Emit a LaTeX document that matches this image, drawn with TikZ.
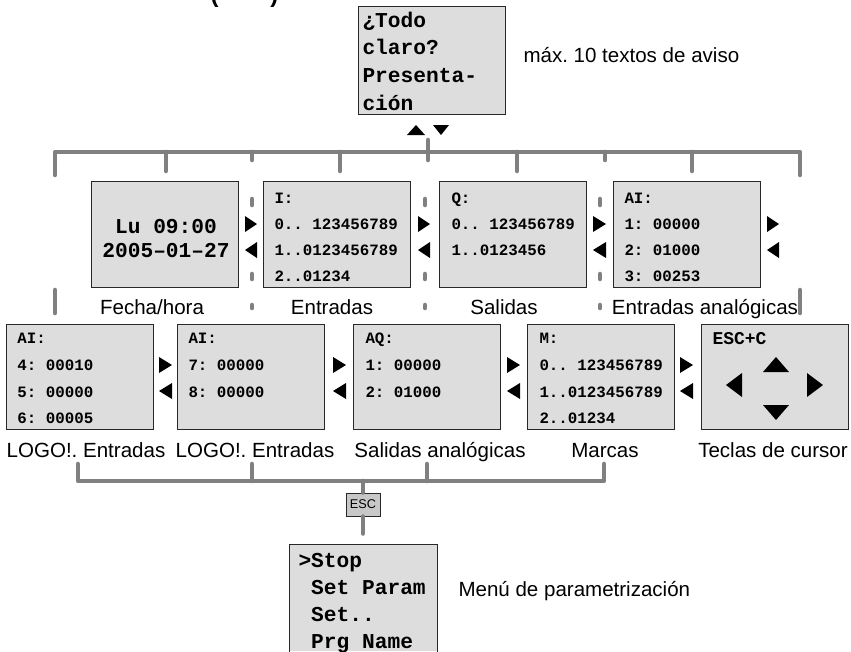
\documentclass[tikz,border=0pt]{standalone}
\usepackage{fontspec}
\setmainfont{Liberation Sans}
\setmonofont{Liberation Mono}
\frenchspacing
\definecolor{lcdgray}{RGB}{221,221,221}
\definecolor{lcdline}{RGB}{40,40,40}
\definecolor{busgray}{RGB}{128,128,128}
\definecolor{escgray}{RGB}{200,200,200}
\tikzset{every picture/.style={line width=0.75pt}}
\tikzset{
lcd/.style={draw=lcdline, fill=lcdgray, line width=0.75pt, inner sep=0pt, minimum width=110.25pt, minimum height=79pt},
bus/.style={draw=busgray, line width=3.4pt, line cap=round, line join=round},
lcdsmall/.style={font=\ttfamily\bfseries\fontsize{11.85}{14}\selectfont, inner sep=0pt, anchor=base west},
lcdbig/.style={font=\ttfamily\bfseries\fontsize{15.9}{19}\selectfont, inner sep=0pt, anchor=base west},
caption/.style={font=\fontsize{15.4}{18}\selectfont, inner sep=0pt, anchor=base},
esckey/.style={draw=lcdline, fill=escgray, inner sep=0pt, minimum width=25.5pt, minimum height=17.25pt, font=\fontsize{9.5}{10}\selectfont}}

\begin{document}
\begin{tikzpicture}[x=0.75pt,y=0.75pt,yscale=-1,xscale=1]
\useasboundingbox (0,0) rectangle (851,651);

% Heading, cut off by the page
\node[font=\bfseries\fontsize{18}{20}\selectfont, inner sep=0pt, anchor=base west] (titulo) at (210,2) {(\hspace{39pt})};

%Gray bus, top
\draw[bus] (55,175) -- (55,152) -- (800,152) -- (800,175) ;
\draw[bus] (428,140) -- (428,160) ;
\draw[bus] (166,152) -- (166,171) ;
\draw[bus] (340,152) -- (340,171) ;
\draw[bus] (517,152) -- (517,171) ;
\draw[bus] (692,152) -- (692,171) ;
\draw[bus] (252,152) -- (252,160) ;
\draw[bus] (605,152) -- (605,160) ;
%Gray bus, bottom
\draw[bus] (78,464) -- (78,481) -- (604,481) -- (604,464) ;
\draw[bus] (252,464) -- (252,481) ;
\draw[bus] (427,464) -- (427,481) ;

%Shape: message display
\node[lcd, minimum height=81pt] (aviso) at (431.5,60) {};
%Shape: row 1 displays
\node[lcd] (fecha) at (165,234.5) {};
\node[lcd] (entr) at (336.5,234.5) {};
\node[lcd] (sal) at (513,234.5) {};
\node[lcd] (anain) at (686.5,234.5) {};
%Shape: row 2 displays
\node[lcd] (logoa) at (79.5,377) {};
\node[lcd] (logob) at (250.5,377) {};
\node[lcd] (anaout) at (426.5,377) {};
\node[lcd] (marc) at (600.5,377) {};
\node[lcd] (cursor) at (775,377) {};
%Shape: ESC key and parameter menu
\node[esckey] (esc) at (363,504.5) {ESC};
\draw[bus] (esc.north) -- (esc.north |- 0,481) ;
\draw[bus] (esc.south) -- ++(0,17) ;
\node[lcd, draw=none, minimum height=79.5pt] (param) at (363.5,598) {};
\draw[lcdline] (param.south west) -- (param.north west) -- (param.north east) -- (param.south east) ;

% Text Node
\node[lcdbig] (aviso1) at (362,27) {¿Todo};
\node[lcdbig] (aviso2) at (362,54) {claro?};
\node[lcdbig] (aviso3) at (362,82) {Presenta-};
\node[lcdbig] (aviso4) at (362,110) {ción};
\node[caption, anchor=base west] (avisolbl) at (523,62) {máx. 10 textos de aviso};

% Text Node
\node[lcdbig, anchor=base] (fecha1) at (166,233) {Lu 09:00};
\node[lcdbig, anchor=base] (fecha2) at (166,257) {2005–01–27};
\node[lcdsmall] (entr1) at (274,203) {I:};
\node[lcdsmall] (entr2) at (274,229) {0.. 123456789};
\node[lcdsmall] (entr3) at (274,255) {1..0123456789};
\node[lcdsmall] (entr4) at (274,281) {2..01234};
\node[lcdsmall] (sal1) at (451,203) {Q:};
\node[lcdsmall] (sal2) at (451,229) {0.. 123456789};
\node[lcdsmall] (sal3) at (451,255) {1..0123456};
\node[lcdsmall] (anain1) at (624,203) {AI:};
\node[lcdsmall] (anain2) at (624,229) {1: 00000};
\node[lcdsmall] (anain3) at (624,255) {2: 01000};
\node[lcdsmall] (anain4) at (624,281) {3: 00253};

% Text Node
\node[lcdsmall] (logoa1) at (17,343) {AI:};
\node[lcdsmall] (logoa2) at (17,370) {4: 00010};
\node[lcdsmall] (logoa3) at (17,397) {5: 00000};
\node[lcdsmall] (logoa4) at (17,423) {6: 00005};
\node[lcdsmall] (logob1) at (188,343) {AI:};
\node[lcdsmall] (logob2) at (188,370) {7: 00000};
\node[lcdsmall] (logob3) at (188,397) {8: 00000};
\node[lcdsmall] (anaout1) at (365,343) {AQ:};
\node[lcdsmall] (anaout2) at (365,370) {1: 00000};
\node[lcdsmall] (anaout3) at (365,397) {2: 01000};
\node[lcdsmall] (marc1) at (539,343) {M:};
\node[lcdsmall] (marc2) at (539,370) {0.. 123456789};
\node[lcdsmall] (marc3) at (539,397) {1..0123456789};
\node[lcdsmall] (marc4) at (539,423) {2..01234};
\node[lcdsmall, font=\ttfamily\bfseries\fontsize{13.5}{15}\selectfont] (cursor1) at (712,344) {ESC+C};

% Text Node
\node[lcdbig] (param1) at (298,567) {>Stop};
\node[lcdbig] (param2) at (298,594) {\hphantom{>}Set Param};
\node[lcdbig] (param3) at (298,621) {\hphantom{>}Set..};
\node[lcdbig] (param4) at (298,648) {\hphantom{>}Prg Name};
\node[caption, anchor=base west] (paramlbl) at (458,596) {Menú de parametrización};

% Captions
\node[caption] (fechalbl) at (152,314) {Fecha/hora};
\node[caption] (entrlbl) at (332,314) {Entradas};
\node[caption] (sallbl) at (504,314) {Salidas};
\node[caption] (anainlbl) at (705,314) {Entradas analógicas};
\node[caption] (logoalbl) at (86,457) {LOGO!. Entradas};
\node[caption] (logoblbl) at (255,457) {LOGO!. Entradas};
\node[caption] (anaoutlbl) at (440,457) {Salidas analógicas};
\node[caption] (marclbl) at (605,457) {Marcas};
\node[caption] (cursorlbl) at (773,457) {Teclas de cursor};

%Gray bus, broken pieces between the displays
\draw[bus] (252,199) -- (252,205) (252,274) -- (252,279) (252,305) -- (252,308) ;
\draw[bus] (425,199) -- (425,205) (425,274) -- (425,279) (425,305) -- (425,308) ;
\draw[bus] (600,199) -- (600,205) (600,274) -- (600,279) (600,305) -- (600,308) ;
\draw[bus] (55,290) -- (55,313) ;
\draw[bus] (800,290) -- (800,313) ;

%Shape: Triangles, up/down under the message
\fill (407,135) -- (416,125) -- (425,135) -- cycle ;
\fill (433,125) -- (441,135) -- (449,125) -- cycle ;
%Shape: Triangles, row 1
\fill (245,216) -- (257,224) -- (245,232) -- cycle ;
\fill (257,242) -- (245,250) -- (257,258) -- cycle ;
\fill (418,216) -- (430,224) -- (418,232) -- cycle ;
\fill (430,242) -- (418,250) -- (430,258) -- cycle ;
\fill (593,216) -- (606,224) -- (593,232) -- cycle ;
\fill (606,242) -- (593,250) -- (606,258) -- cycle ;
\fill (767,216) -- (779,224) -- (767,232) -- cycle ;
\fill (779,242) -- (767,250) -- (779,258) -- cycle ;
%Shape: Triangles, row 2
\fill (159,357) -- (172,365) -- (159,373) -- cycle ;
\fill (172,383) -- (159,391) -- (172,399) -- cycle ;
\fill (333,357) -- (346,365) -- (333,373) -- cycle ;
\fill (346,383) -- (333,391) -- (346,399) -- cycle ;
\fill (507,357) -- (520,365) -- (507,373) -- cycle ;
\fill (520,383) -- (507,391) -- (520,399) -- cycle ;
\fill (680,357) -- (693,365) -- (680,373) -- cycle ;
\fill (693,383) -- (680,391) -- (693,399) -- cycle ;
%Shape: Triangles, cursor keys
\fill (763,372) -- (776,357) -- (789,372) -- cycle ;
\fill (763,405) -- (776,420) -- (789,405) -- cycle ;
\fill (742,373) -- (726,385) -- (742,397) -- cycle ;
\fill (807,373) -- (823,385) -- (807,397) -- cycle ;

\end{tikzpicture}
\end{document}
